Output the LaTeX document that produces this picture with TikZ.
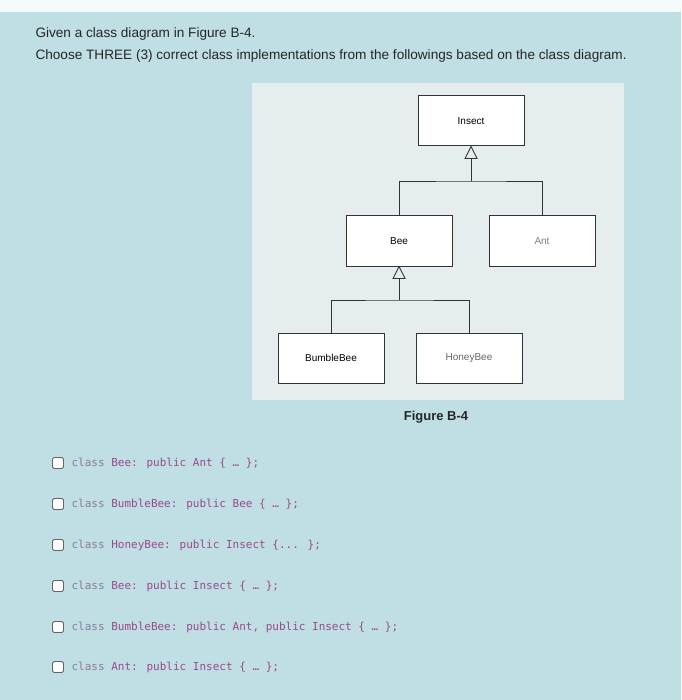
\documentclass[tikz,border=0pt]{standalone}
\usepackage{fontspec}
\usetikzlibrary{calc}
\setmainfont{Liberation Sans}
\newfontfamily\codefont{DejaVu Sans Mono}
\definecolor{bg}{HTML}{BFDFE4}
\definecolor{panel}{HTML}{E6EDEF}
\definecolor{kw}{HTML}{8A7A9A}
\definecolor{code}{HTML}{9A4A8A}
\begin{document}
\begin{tikzpicture}[x=1pt,y=-1pt,
  cls/.style={draw=black!80,line width=1pt,fill=white,minimum width=106pt,minimum height=50pt,font=\fontsize{10}{12}\selectfont,inner sep=0pt},
  conn/.style={draw=black!80,line width=0.9pt},
  chk/.style={draw=black!60,fill=white,line width=0.9pt,minimum size=11pt,inner sep=0pt,rounded corners=1.5pt},
  opt/.style={anchor=west,font=\codefont\fontsize{11}{13}\selectfont,text=code}]
\fill[bg] (0,0) rectangle (681,700);
\useasboundingbox (0,0) rectangle (681,700);
\fill[white!85!bg] (0,0) rectangle (681,12);
\node[anchor=west,font=\fontsize{13.6}{16}\selectfont,text=black!85] (t1) at (32,34) {Given a class diagram in Figure B-4.};
\node[anchor=west,font=\fontsize{13.6}{16}\selectfont,text=black!85] (t2) at (32,56) {Choose THREE (3) correct class implementations from the followings based on the class diagram.};
\fill[panel] (252,83) rectangle (624,400);
\node[cls] (insect) at (471,121) {Insect};
\node[cls] (bee) at (399,241) {Bee};
\node[cls,text=black!50] (ant) at (542,241) {Ant};
\node[cls] (bumble) at (331,358) {BumbleBee};
\node[cls,text=black!60] (honey) at (469,358) {HoneyBee};
\coordinate (j1) at (471,181);
\coordinate (j2) at (399,300);
\draw[conn] (insect.south) -- ++(-6,12) -- ++(12,0) -- cycle;
\draw[conn] ($(insect.south)+(0,12)$) -- (j1);
\draw[conn] (bee.north) |- (j1) -| (ant.north);
\draw[conn] (bee.south) -- ++(-6,12) -- ++(12,0) -- cycle;
\draw[conn] ($(bee.south)+(0,12)$) -- (j2);
\draw[conn] (bumble.north) |- (j2) -| (honey.north);
\node[font=\bfseries\fontsize{13}{15}\selectfont,text=black!85] (fig) at (436,417) {Figure B-4};
\foreach \i/\y/\a in {1/463/Bee: public Ant {\{ … \}};,
  2/504/BumbleBee: public Bee {\{ … \}};,
  3/545/HoneyBee: public Insect {\{... \}};,
  4/586/Bee: public Insect {\{ … \}};,
  5/627/{BumbleBee: public Ant, public Insect \{ … \};},
  6/667/Ant: public Insect {\{ … \}};}{
  \node[chk] (c\i) at (58,\y) {};
  \node[opt] (o\i) at (68,\y) {\textcolor{kw}{class} \a};
}
\end{tikzpicture}
\end{document}
